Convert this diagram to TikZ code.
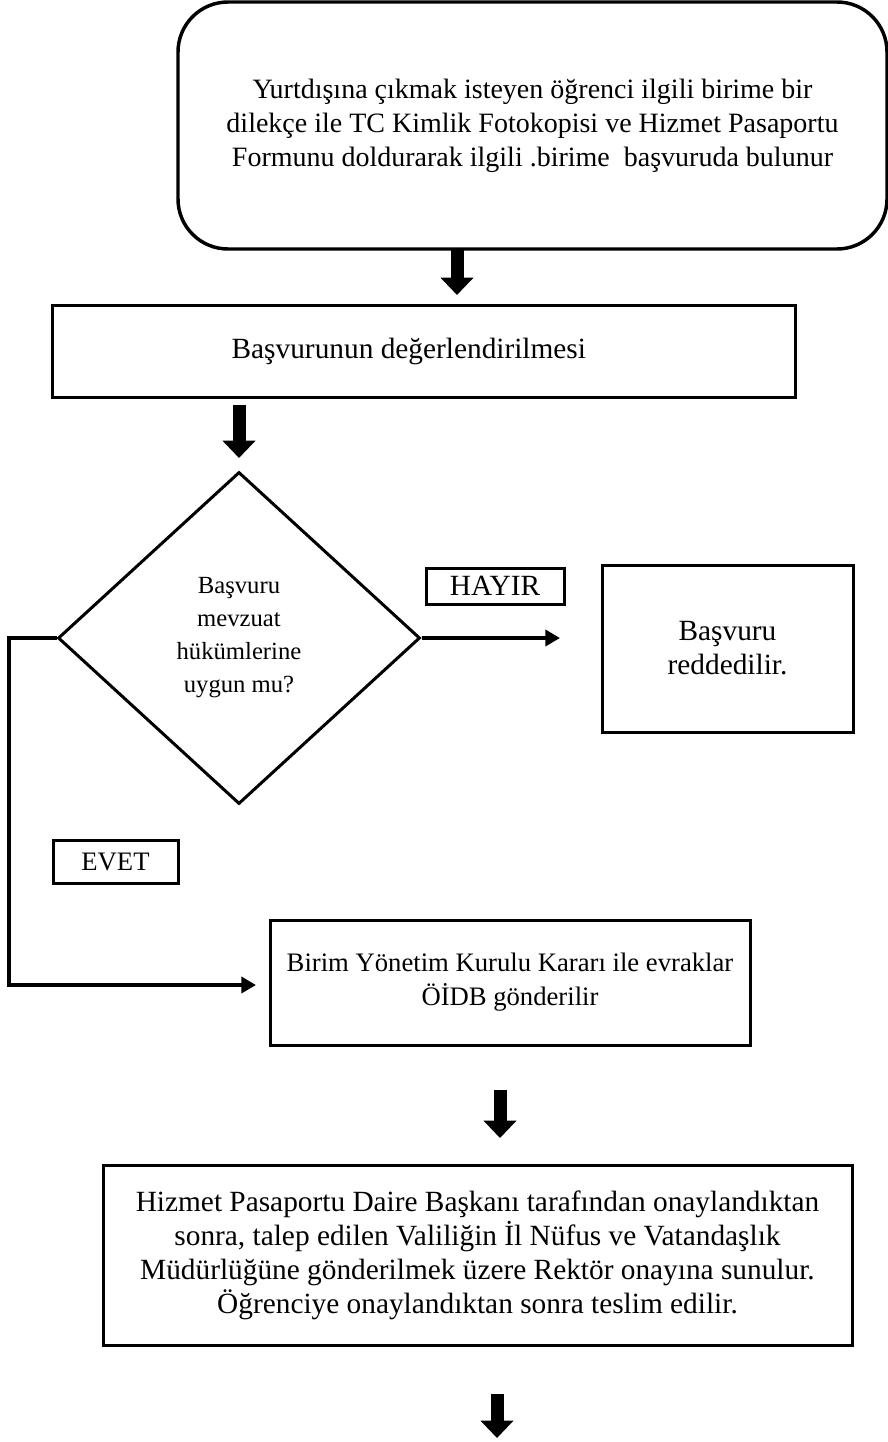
\documentclass[tikz,border=0pt]{standalone}
\usepackage{fontspec}
\setmainfont{Liberation Serif}
\usepackage{tikz}
\usetikzlibrary{shapes.geometric, arrows.meta}

\begin{document}
\begin{tikzpicture}[x=0.75pt, y=-0.75pt,
		box/.style = {draw, line width=2.25pt, align=center, inner sep=0pt, font=\fontsize{22}{25.5}\selectfont},
		fat/.style = {line width=9.75pt, -{Triangle[width=24pt, length=13pt]}},
		thin/.style = {line width=3pt, -{Triangle[width=12pt, length=11pt]}}]
		\useasboundingbox (0,0) rectangle (888,1442);
		
		\node[box, rounded corners=37.5pt, line width=2.6pt, minimum width=531.75pt, minimum height=185.25pt, font=\fontsize{21}{25.5}\selectfont] (basla) at (532.5,125.5) {Yurtdışına çıkmak isteyen öğrenci ilgili birime bir\\ dilekçe ile TC Kimlik Fotokopisi ve Hizmet Pasaportu\\ Formunu doldurarak ilgili .birime\ \ başvuruda bulunur};
		\node[box, minimum width=557.25pt, minimum height=69pt] (deger) at (423.5,351) {Başvurunun değerlendirilmesi\hspace{22pt}};
		\node[box, diamond, minimum width=271.5pt, minimum height=249pt, font=\fontsize{18.5}{24.75}\selectfont] (karar) at (239,638) {Başvuru\\ mevzuat\\ hükümlerine\\ uygun mu?};
		\node[box, minimum width=103.5pt, minimum height=27pt] (hayir) at (495,586) {HAYIR};
		\node[box, minimum width=188.25pt, minimum height=125.25pt] (red) at (727.5,648.5) {Başvuru\\ reddedilir.};
		\node[box, minimum width=93.75pt, minimum height=32.25pt, font=\fontsize{20}{25.5}\selectfont] (evet) at (115.5,861.5) {EVET};
		\node[box, minimum width=360pt, minimum height=93.75pt, font=\fontsize{20}{25.5}\selectfont] (birim) at (510,982.5) {Birim Yönetim Kurulu Kararı ile evraklar\\ ÖİDB gönderilir};
		\node[box, minimum width=561.75pt, minimum height=135pt] (onay) at (477.5,1255) {Hizmet Pasaportu Daire Başkanı tarafından onaylandıktan\\ sonra, talep edilen Valiliğin İl Nüfus ve Vatandaşlık\\ Müdürlüğüne gönderilmek üzere Rektör onayına sunulur.\\ Öğrenciye onaylandıktan sonra teslim edilir.};
		
		% kalin oklar
		\coordinate (o1a) at (457,250); \coordinate (o1b) at (457,295);
		\coordinate (o2a) at (239,405); \coordinate (o2b) at (239,458);
		\coordinate (o3a) at (500,1090); \coordinate (o3b) at (500,1138);
		\coordinate (o4a) at (497,1394); \coordinate (o4b) at (497,1438);
		\draw[fat] (o1a) -- (o1b);
		\draw[fat] (o2a) -- (o2b);
		\draw[fat] (o3a) -- (o3b);
		\draw[fat] (o4a) -- (o4b);
		
		\coordinate (hayiruc) at (560,639);
		\coordinate (sol) at (9,985);
		\coordinate (birimuc) at (256,985);
		\draw[thin] (karar.east) -- (karar.east -| hayiruc);
		\draw[thin, line join=miter] (karar.west) -| (sol) -- (birimuc);
\end{tikzpicture}
\end{document}
